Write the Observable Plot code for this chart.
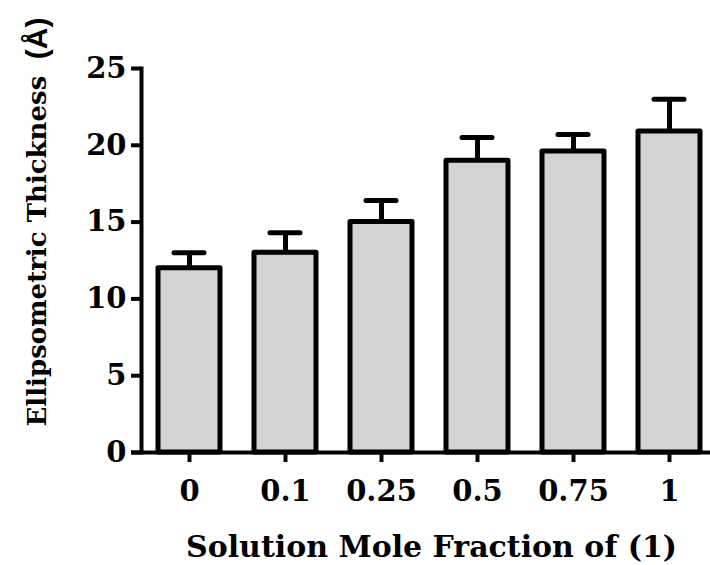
<!DOCTYPE html>
<html>
<head>
<meta charset="utf-8">
<script src="https://cdn.jsdelivr.net/npm/d3@7"></script>
<script src="https://cdn.jsdelivr.net/npm/@observablehq/plot@0.6"></script>
<style>
  html, body { margin: 0; padding: 0; background: #fff; }
</style>
</head>
<body>
<div id="chart"></div>
<script>
const fractions = ["0", "0.1", "0.25", "0.5", "0.75", "1"];
const thickness = [12, 13, 15, 19, 19.6, 20.9];
const errorTop = [13, 14.3, 16.4, 20.5, 20.7, 23];
const yTicks = [0, 5, 10, 15, 20, 25];
const xTitle = "Solution Mole Fraction of (1)";
const yTitleMain = "Ellipsometric Thickness";
const yTitleUnit = "(Å)";

const data = fractions.map((f, i) => ({frac: f, value: thickness[i], hi: errorTop[i]}));

const serif = "'DejaVu Serif', 'Liberation Serif', serif";
const fs = 29;

const chart = Plot.plot({
  width: 710,
  height: 565,
  marginTop: 68,
  marginBottom: 113,
  marginLeft: 141,
  marginRight: -7,
  style: {fontFamily: serif, fontWeight: "bold", fontSize: fs + "px", background: "#fff", color: "#000"},
  x: {domain: fractions, padding: 0},
  y: {domain: [0, 25], ticks: yTicks},
  marks: [
    Plot.ruleX(data, {x: "frac", y1: "value", y2: "hi", stroke: "#000", strokeWidth: 5}),
    Plot.tickY(data, {x: "frac", y: "hi", stroke: "#000", strokeWidth: 5, strokeLinecap: "round", insetLeft: 33, insetRight: 33}),
    Plot.barY(data, {x: "frac", y: "value", fill: "#d3d3d3", stroke: "#000", strokeWidth: 5, strokeLinejoin: "round", insetLeft: 17, insetRight: 17}),
    Plot.frame({anchor: "left", stroke: "#000", strokeWidth: 4}),
    Plot.ruleY([0], {stroke: "#000", strokeWidth: 4, insetLeft: -10}),
    Plot.axisY({ticks: yTicks, tickSize: 10, tickPadding: 5, strokeWidth: 4, label: null, fontSize: fs}),
    Plot.axisX({tickSize: 10, tickPadding: 18, strokeWidth: 4, label: null, fontSize: fs}),
    Plot.text([xTitle], {frameAnchor: "bottom", lineAnchor: "bottom", dx: 2, dy: 104, fontSize: 30, fontWeight: "bold"}),
    Plot.text([yTitleMain], {frameAnchor: "left", rotate: -90, textAnchor: "start", dx: -104, dy: 166, fontSize: 26, fontWeight: "bold"}),
    Plot.text([yTitleUnit], {frameAnchor: "left", rotate: -90, textAnchor: "end", dx: -104, dy: -243, fontSize: 30, fontWeight: "bold", fontFamily: "'Liberation Sans', Arial, sans-serif"})
  ]
});
document.getElementById("chart").appendChild(chart);
</script>
</body>
</html>
